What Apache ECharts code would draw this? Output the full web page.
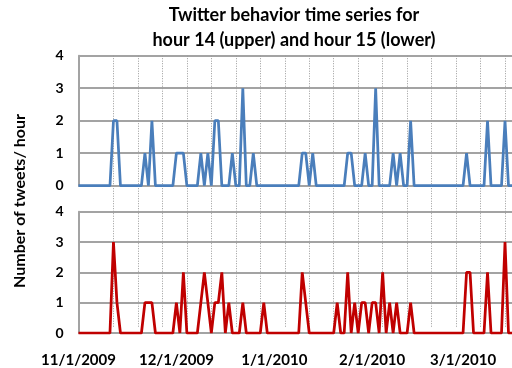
<!DOCTYPE html>
<html>
<head>
<meta charset="utf-8">
<script src="https://cdn.jsdelivr.net/npm/echarts@6/dist/echarts.min.js"></script>
<style>
html, body { margin: 0; padding: 0; background: #fff; }
#chart { width: 512px; height: 368px; }
</style>
</head>
<body>
<div id="chart"></div>
<script>
// tweets per day at hour 14 (upper panel)
var hour14 = [
    0,0,0,0,0,0,0,0,0,0,
    2,2,0,0,0,0,0,0,0,1,
    0,2,0,0,0,0,0,0,1,1,
    1,0,0,0,0,1,0,1,0,2,
    2,0,0,0,1,0,0,3,0,0,
    1,0,0,0,0,0,0,0,0,0,
    0,0,0,0,1,1,0,1,0,0,
    0,0,0,0,0,0,0,1,1,0,
    0,0,1,0,0,3,0,0,0,0,
    1,0,1,0,0,2,0,0,0,0,
    0,0,0,0,0,0,0,0,0,0,
    0,1,0,0,0,0,0,2,0,0,
    0,0,2,0,0
];
// tweets per day at hour 15 (lower panel)
var hour15 = [
    0,0,0,0,0,0,0,0,0,0,
    3,1,0,0,0,0,0,0,0,1,
    1,1,0,0,0,0,0,0,1,0,
    2,0,0,0,0,1,2,1,0,1,
    1,2,0,1,0,0,0,1,0,0,
    0,0,0,1,0,0,0,0,0,0,
    0,0,0,0,2,1,0,0,0,0,
    0,0,0,0,1,0,0,2,0,1,
    0,1,1,0,1,1,0,2,0,1,
    0,1,0,0,0,1,0,0,0,0,
    0,0,0,0,0,0,0,0,0,0,
    0,2,2,0,0,0,0,2,0,0,
    0,0,3,0,0
];
var tickLabels = ['11/1/2009', '12/1/2009', '1/1/2010', '2/1/2010', '3/1/2010'];
var tickIndex = [0, 28, 56, 84, 110];

var days = [];
for (var i = 0; i < hour14.length; i++) {
    days.push(String(i));
}

var gridLeft = 78.5;
var gridWidth = 3.521 * (hour14.length - 1);   // runs past the right edge, like the original
var grayLine = { color: '#a3a3a3', width: 2 };

function valueAxis(gridIndex) {
    return {
        type: 'value',
        gridIndex: gridIndex,
        min: 0,
        max: 4,
        interval: 1,
        axisLine: { show: true, lineStyle: grayLine },
        axisTick: { show: false },
        splitLine: { show: true, lineStyle: grayLine },
        axisLabel: {
            margin: 15,
            color: '#000',
            fontFamily: 'Lato',
            fontWeight: 'bold',
            fontSize: 14
        }
    };
}

var myChart = echarts.init(document.getElementById('chart'));
var option = {
    animation: false,
    backgroundColor: '#fff',
    title: {
        text: 'Twitter behavior time series for\nhour 14 (upper) and hour 15 (lower)',
        left: 294,
        top: 3,
        padding: 0,
        textAlign: 'center',
        textStyle: {
            color: '#000',
            fontFamily: 'Lato',
            fontWeight: 'bold',
            fontSize: 18,
            lineHeight: 25
        }
    },
    graphic: [{
        type: 'text',
        x: 20,
        y: 201,
        rotation: Math.PI / 2,
        style: {
            text: 'Number of tweets/ hour',
            fill: '#000',
            font: 'bold 16px Lato',
            align: 'center',
            verticalAlign: 'middle'
        }
    }],
    grid: [
        { left: gridLeft, top: 55.7, width: gridWidth, height: 130 },
        { left: gridLeft, top: 211.7, width: gridWidth, height: 122.3 },
        { left: gridLeft, top: 55.7, width: gridWidth, height: 272.3 }   // weekly dotted lines
    ],
    xAxis: [
        {
            type: 'category', gridIndex: 0, data: days, boundaryGap: false,
            axisLine: { show: false }, axisTick: { show: false },
            axisLabel: { show: false }, splitLine: { show: false }
        },
        {
            type: 'category', gridIndex: 1, data: days, boundaryGap: false,
            axisLine: { show: false }, axisTick: { show: false },
            splitLine: { show: false },
            axisLabel: {
                margin: 20,
                color: '#000',
                fontFamily: 'Lato',
                fontWeight: 'bold',
                fontSize: 15,
                interval: function (index) {
                    return tickIndex.indexOf(index) >= 0;
                },
                formatter: function (value, index) {
                    var k = tickIndex.indexOf(index);
                    return k >= 0 ? tickLabels[k] : '';
                }
            }
        },
        {
            type: 'category', gridIndex: 2, data: days, boundaryGap: false,
            axisLine: { show: false }, axisTick: { show: false },
            axisLabel: { show: false },
            splitLine: {
                show: true,
                interval: function (index) {
                    return index >= 10 && (index - 10) % 7 === 0;
                },
                lineStyle: { color: '#9a9a9a', width: 1, type: [1, 1.5] }
            }
        }
    ],
    yAxis: [
        valueAxis(0),
        valueAxis(1),
        { type: 'value', gridIndex: 2, show: false, min: 0, max: 1 }
    ],
    series: [
        {
            type: 'line',
            xAxisIndex: 0,
            yAxisIndex: 0,
            data: hour14,
            symbol: 'none',
            lineStyle: { color: '#4a7ebb', width: 2.75 },
            itemStyle: { color: '#4a7ebb' }
        },
        {
            type: 'line',
            xAxisIndex: 1,
            yAxisIndex: 1,
            data: hour15,
            symbol: 'none',
            lineStyle: { color: '#c00000', width: 2.75 },
            itemStyle: { color: '#c00000' }
        }
    ]
};
myChart.setOption(option);
</script>
</body>
</html>
